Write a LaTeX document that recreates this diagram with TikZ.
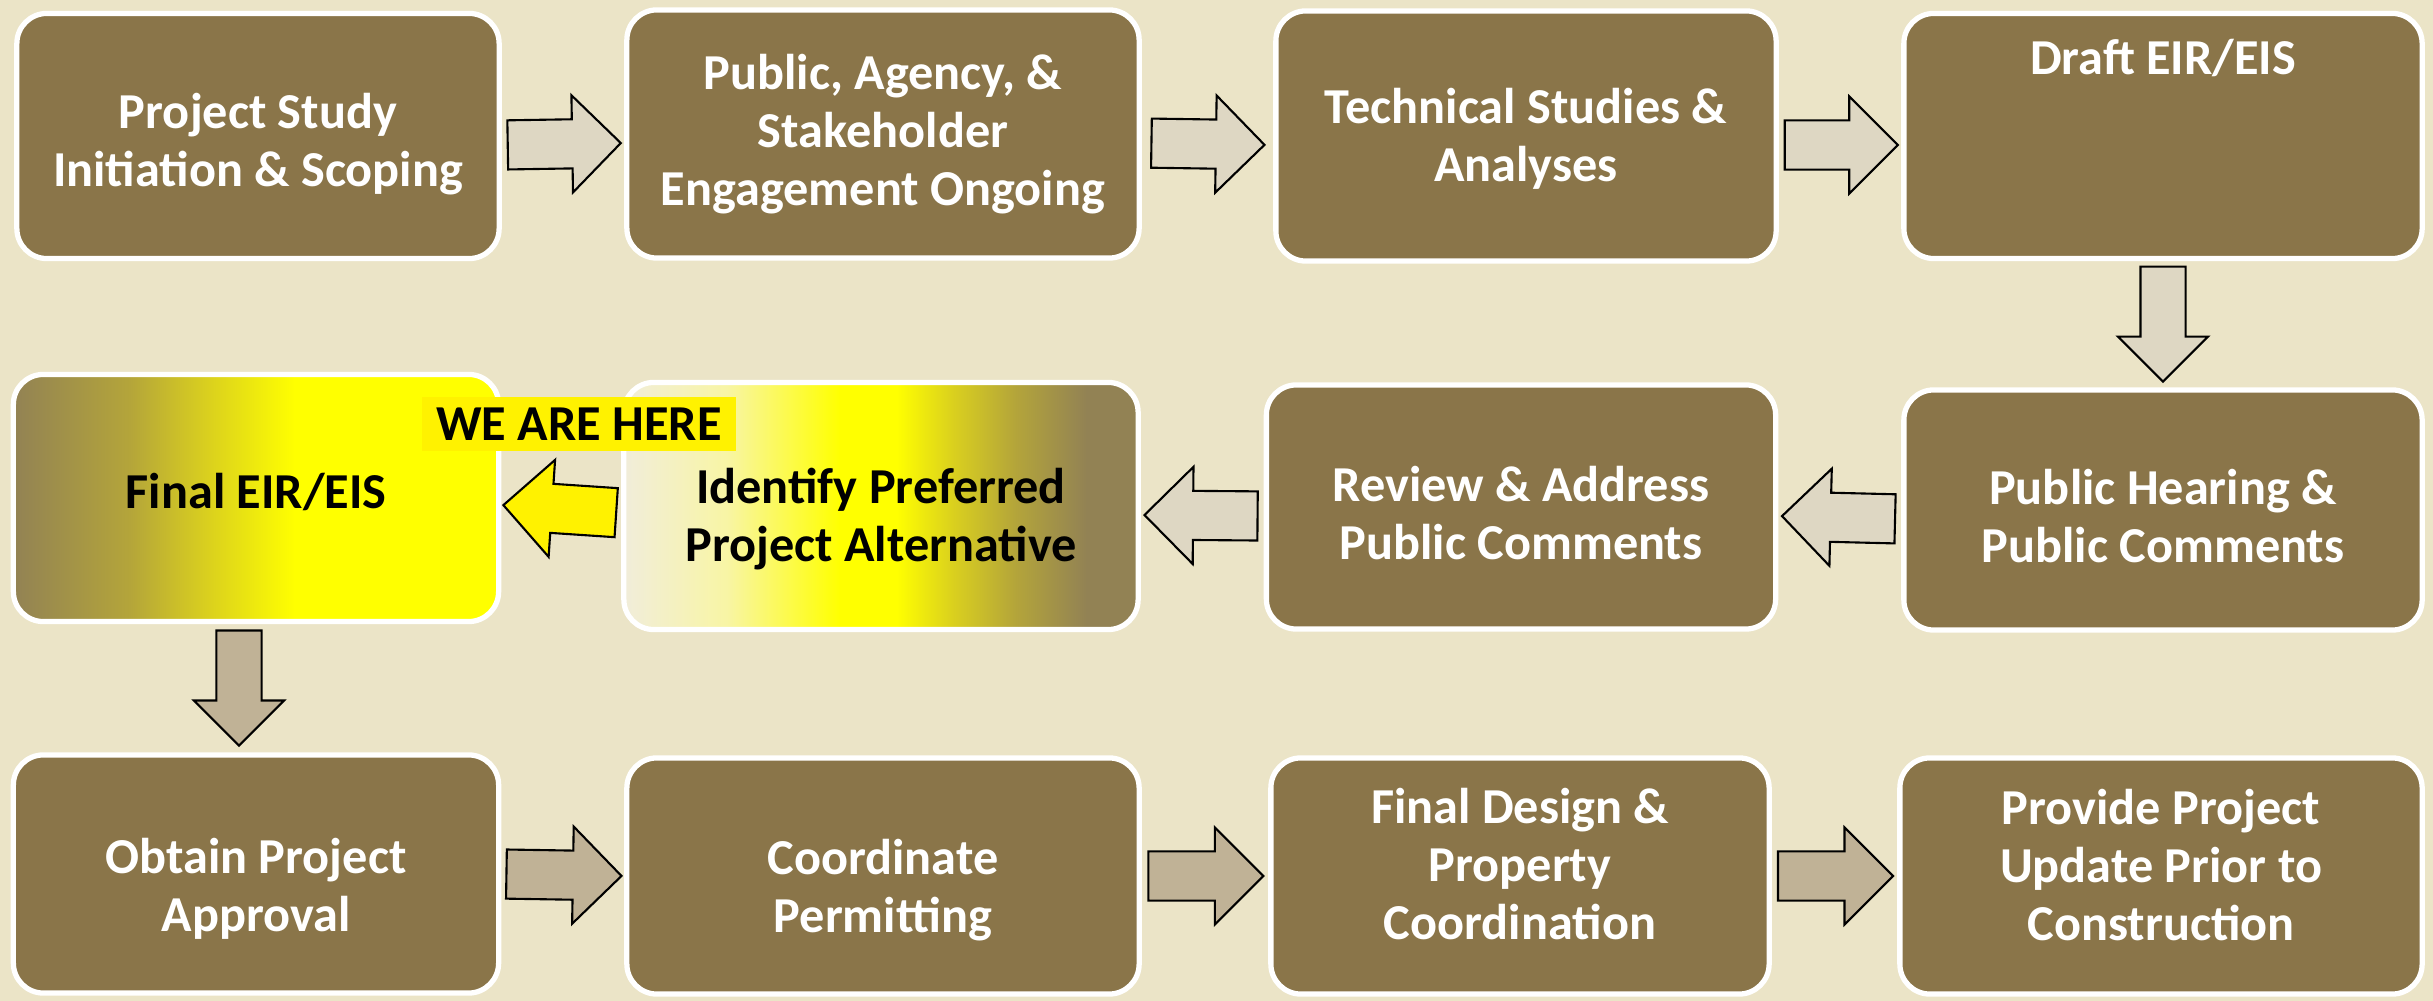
\documentclass[tikz,border=0pt]{standalone}
\usepackage{fontspec}
\setmainfont{Carlito}
\usetikzlibrary{shapes.arrows, calc}

\definecolor{paper}{RGB}{235,228,199}
\definecolor{boxbrown}{RGB}{138,117,73}
\definecolor{arrowlight}{RGB}{222,215,195}
\definecolor{arrowdark}{RGB}{192,178,150}
\definecolor{olivegray}{RGB}{146,130,84}
\definecolor{olivemid}{RGB}{180,165,58}
\definecolor{olivelight}{RGB}{218,208,30}
\definecolor{creamwhite}{RGB}{241,237,218}
\definecolor{paleyellow}{RGB}{248,245,165}

% gradients for the two highlighted steps (25bp..75bp is what gets shown)
\pgfdeclarehorizontalshading{finalshade}{100bp}{color(0bp)=(olivegray); color(25bp)=(olivegray);
  color(37bp)=(olivemid); color(45bp)=(olivelight); color(54bp)=(yellow); color(100bp)=(yellow)}
\pgfdeclarehorizontalshading{prefershade}{100bp}{color(0bp)=(creamwhite); color(25bp)=(creamwhite);
  color(35bp)=(paleyellow); color(46bp)=(yellow); color(51.5bp)=(yellow); color(57bp)=(olivelight);
  color(63bp)=(olivemid); color(70bp)=(olivegray); color(100bp)=(olivegray)}

\begin{document}
\begin{tikzpicture}[
    x=0.01cm, y=-0.01cm, % pixel grid, y runs down
    stepbox/.style={rounded corners=0.3cm, draw=white, line width=1.5pt,
      fill=boxbrown, inner sep=0pt},
    steptext/.style={text=white, align=center,
      font=\fontsize{14.3}{16.4}\selectfont\bfseries},
    flowarrow/.style={single arrow, draw=black, line width=0.6pt, fill=arrowlight,
      minimum height=1.13cm, inner xsep=0pt, inner ysep=0.235cm,
      single arrow head extend=0.24cm, pos=0.41, sloped, allow upside down},
    downarrow/.style={flowarrow, minimum height=1.15cm, inner ysep=0.215cm,
      single arrow head extend=0.225cm},
    nudge/.style={transform canvas={yshift=-#1}},
  ]

  % --- paper ---
  \fill[paper] (0,0) rectangle (2433,1001);
  \useasboundingbox (0,0) rectangle (2433,1001);

  % --- row 1 ---
  \node[stepbox, minimum width=4.82cm, minimum height=2.45cm,
    label={[steptext, yshift=-0.08cm]center:{Project Study\\Initiation \& Scoping}}]
    (scoping) at (258,136) {};
  \node[stepbox, minimum width=5.12cm, minimum height=2.48cm,
    label={[steptext]center:{Public, Agency, \&\\Stakeholder\\Engagement Ongoing}}]
    (engage) at (883,134) {};
  \node[stepbox, minimum width=5.00cm, minimum height=2.50cm,
    label={[steptext, yshift=-0.03cm]center:{Technical Studies \&\\Analyses}}]
    (studies) at (1526,136) {};
  \node[stepbox, minimum width=5.18cm, minimum height=2.45cm,
    label={[steptext, yshift=0.78cm]center:{Draft EIR/EIS}}]
    (draft) at (2163,136) {};

  % --- row 2 ---
  \node[stepbox, shading=finalshade, minimum width=4.85cm, minimum height=2.47cm,
    label={[steptext, text=black, yshift=0.06cm]center:{Final EIR/EIS}}]
    (final) at (256,498) {};
  \node[stepbox, shading=prefershade, minimum width=5.14cm, minimum height=2.47cm,
    label={[steptext, text=black, yshift=-0.13cm]center:{Identify Preferred\\Project Alternative}}]
    (prefer) at (881,506) {};
  \node[stepbox, minimum width=5.09cm, minimum height=2.44cm,
    label={[steptext, yshift=-0.06cm]center:{Review \& Address\\Public Comments}}]
    (review) at (1521,507) {};
  \node[stepbox, minimum width=5.18cm, minimum height=2.40cm,
    label={[steptext, yshift=-0.06cm]center:{Public Hearing \&\\Public Comments}}]
    (hearing) at (2163,510) {};

  % --- row 3 ---
  \node[stepbox, minimum width=4.85cm, minimum height=2.38cm,
    label={[steptext, yshift=-0.15cm]center:{Obtain Project\\Approval}}]
    (approve) at (256,874) {};
  \node[stepbox, minimum width=5.12cm, minimum height=2.36cm,
    label={[steptext, yshift=-0.14cm]center:{Coordinate\\Permitting}}]
    (permit) at (883,876) {};
  \node[stepbox, minimum width=4.98cm, minimum height=2.36cm,
    label={[steptext, yshift=0.12cm]center:{Final Design \&\\Property\\Coordination}}]
    (design) at (1520,876) {};
  \node[stepbox, minimum width=5.22cm, minimum height=2.36cm,
    label={[steptext, yshift=0.11cm]center:{Provide Project\\Update Prior to\\Construction}}]
    (update) at (2161,876) {};

  % --- block arrows ---
  \path[nudge=0.09cm] (scoping.east) -- node[flowarrow] {} (engage.west);
  \path[nudge=0.09cm] (engage.east) -- node[flowarrow] {} (studies.west);
  \path[nudge=0.09cm] (studies.east) -- node[flowarrow] {} (draft.west);
  \path (draft.south) -- node[downarrow] {} (hearing.north);
  \path[nudge=0.09cm] (hearing.west) -- node[flowarrow] {} (review.east);
  \path[nudge=0.09cm] (review.west) -- node[flowarrow] {} (prefer.east);
  \path[nudge=0.07cm] (prefer.west) -- node[flowarrow, fill=yellow] {} (final.east);
  \path ([xshift=-0.17cm]final.south) -- node[downarrow, fill=arrowdark] {} ([xshift=-0.17cm]approve.north);
  \path (approve.east) -- node[flowarrow, fill=arrowdark, minimum height=1.15cm] {} (permit.west);
  \path (permit.east) -- node[flowarrow, fill=arrowdark, minimum height=1.15cm] {} (design.west);
  \path (design.east) -- node[flowarrow, fill=arrowdark, minimum height=1.15cm] {} (update.west);

  % --- marker ---
  \node[fill=yellow, text=black, inner xsep=4pt, inner ysep=3pt,
    font=\fontsize{14.3}{16}\selectfont\bfseries] (here) at (579,424) {WE ARE HERE};

\end{tikzpicture}
\end{document}
